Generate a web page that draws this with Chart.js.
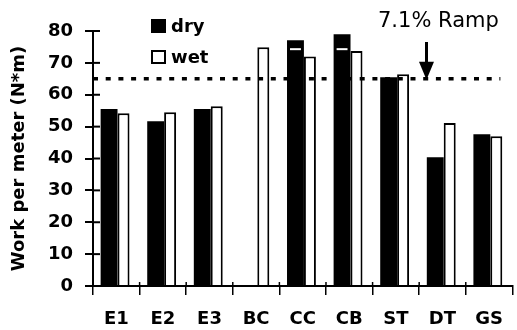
<!DOCTYPE html>
<html lang="en">
<head>
    <meta charset="UTF-8">
    <title>Work per meter</title>
    <script src="https://cdn.jsdelivr.net/npm/chart.js"></script>
    <style>
        body {
            margin: 0;
            padding: 0;
            background: #fff;
        }

        .wrap {
            position: relative;
            width: 517px;
            height: 330px;
        }

        .legend-row {
            position: absolute;
            left: 151px;
            font-family: 'DejaVu Sans', sans-serif;
            font-weight: bold;
            font-size: 18px;
            line-height: 18px;
            color: #000;
            white-space: nowrap;
        }

        .swatch {
            display: inline-block;
            width: 15px;
            height: 14px;
            box-sizing: border-box;
            border: 2px solid #000;
            margin-right: 5px;
            vertical-align: -1px;
        }

        .note {
            position: absolute;
            left: 378px;
            top: 10px;
            font-family: 'DejaVu Sans', sans-serif;
            font-size: 21px;
            line-height: 21px;
            color: #000;
            white-space: nowrap;
        }
    </style>
</head>
<body>
    <div class="wrap">
        <canvas id="workChart" width="517" height="330"></canvas>
        <div class="legend-row" style="top: 17px;"><span class="swatch" style="background:#000;"></span>dry</div>
        <div class="legend-row" style="top: 48px;"><span class="swatch" style="background:#fff;"></span>wet</div>
        <div class="note">7.1% Ramp</div>
    </div>

    <script>
        // values
        const surfaces = ['E1', 'E2', 'E3', 'BC', 'CC', 'CB', 'ST', 'DT', 'GS'];
        const dryWork = [55.5, 51.7, 55.5, null, 77.1, 79.0, 65.5, 40.4, 47.6];
        const wetWork = [54.2, 54.5, 56.4, 74.9, 72.0, 73.7, 66.4, 51.1, 47.0];
        const dryMarks = [null, null, null, null, 74.3, 74.3, null, null, null];
        const rampLevel = 65;
        const rampSurface = 'DT';

        // dotted ramp line, arrow, inner ticks and white marks in dry bars
        const extras = {
            id: 'extras',
            afterDatasetsDraw(chart) {
                const ctx = chart.ctx;
                const x = chart.scales.x;
                const y = chart.scales.y;
                const area = chart.chartArea;
                ctx.save();

                // white marks inside the dry bars
                const dryMeta = chart.getDatasetMeta(0);
                ctx.strokeStyle = '#fff';
                ctx.lineWidth = 2;
                dryMarks.forEach((v, i) => {
                    if (v == null) return;
                    const bar = dryMeta.data[i];
                    const py = y.getPixelForValue(v);
                    ctx.beginPath();
                    ctx.moveTo(bar.x - bar.width / 2 + 3, py);
                    ctx.lineTo(bar.x + bar.width / 2 - 3, py);
                    ctx.stroke();
                });

                // dotted line at the ramp level
                const ry = y.getPixelForValue(rampLevel);
                ctx.strokeStyle = '#000';
                ctx.lineWidth = 3.5;
                ctx.setLineDash([5, 7.7]);
                ctx.beginPath();
                ctx.moveTo(area.left, ry);
                ctx.lineTo(area.right - 12, ry);
                ctx.stroke();
                ctx.setLineDash([]);

                // arrow pointing down to the line
                const ax = x.getPixelForValue(surfaces.indexOf(rampSurface)) - 16;
                ctx.lineWidth = 3;
                ctx.beginPath();
                ctx.moveTo(ax, 42);
                ctx.lineTo(ax, ry - 14);
                ctx.stroke();
                ctx.fillStyle = '#000';
                ctx.beginPath();
                ctx.moveTo(ax - 7.5, ry - 17);
                ctx.lineTo(ax + 7.5, ry - 17);
                ctx.lineTo(ax, ry + 1);
                ctx.closePath();
                ctx.fill();

                // tick marks reaching inside the plot
                ctx.lineWidth = 2;
                y.ticks.forEach(t => {
                    const py = y.getPixelForValue(t.value);
                    ctx.beginPath();
                    ctx.moveTo(area.left, py);
                    ctx.lineTo(area.left + 7, py);
                    ctx.stroke();
                });
                ctx.lineWidth = 1.5;
                for (let i = 1; i < surfaces.length; i++) {
                    const px = (x.getPixelForValue(i - 1) + x.getPixelForValue(i)) / 2;
                    ctx.beginPath();
                    ctx.moveTo(px, area.bottom);
                    ctx.lineTo(px, area.bottom - 4);
                    ctx.stroke();
                }
                ctx.restore();
            }
        };

        Chart.defaults.font.family = "'DejaVu Sans', sans-serif";
        Chart.defaults.color = '#000';

        new Chart(document.getElementById('workChart'), {
            type: 'bar',
            data: {
                labels: surfaces,
                datasets: [{
                    label: 'dry',
                    data: dryWork,
                    backgroundColor: '#000',
                    borderColor: '#000',
                    borderWidth: 0,
                    barPercentage: 1.17
                }, {
                    label: 'wet',
                    data: wetWork,
                    backgroundColor: '#fff',
                    borderColor: '#000',
                    borderWidth: 2,
                    barPercentage: 0.83
                }]
            },
            options: {
                responsive: false,
                animation: false,
                categoryPercentage: 0.62,
                layout: {
                    padding: { top: 31, right: 1, left: 0, bottom: 0 }
                },
                plugins: {
                    legend: { display: false },
                    tooltip: { enabled: false }
                },
                scales: {
                    x: {
                        afterFit(scale) { scale.height = 44; },
                        border: { color: '#000', width: 2 },
                        grid: {
                            drawOnChartArea: false,
                            offset: true,
                            tickLength: 9,
                            color: '#000',
                            lineWidth: 1.5
                        },
                        ticks: {
                            padding: 14,
                            font: { size: 18, weight: 'bold' }
                        }
                    },
                    y: {
                        min: 0,
                        max: 80,
                        afterFit(scale) { scale.width = 93; },
                        border: { color: '#000', width: 2 },
                        grid: {
                            drawOnChartArea: false,
                            tickLength: 8,
                            color: '#000',
                            lineWidth: 2
                        },
                        ticks: {
                            stepSize: 10,
                            padding: 12,
                            font: { size: 18, weight: 'bold' }
                        },
                        title: {
                            display: true,
                            text: 'Work per meter (N*m)',
                            padding: { top: 9, bottom: 0 },
                            font: { size: 18, weight: 'bold' }
                        }
                    }
                }
            },
            plugins: [extras]
        });
    </script>
</body>
</html>
